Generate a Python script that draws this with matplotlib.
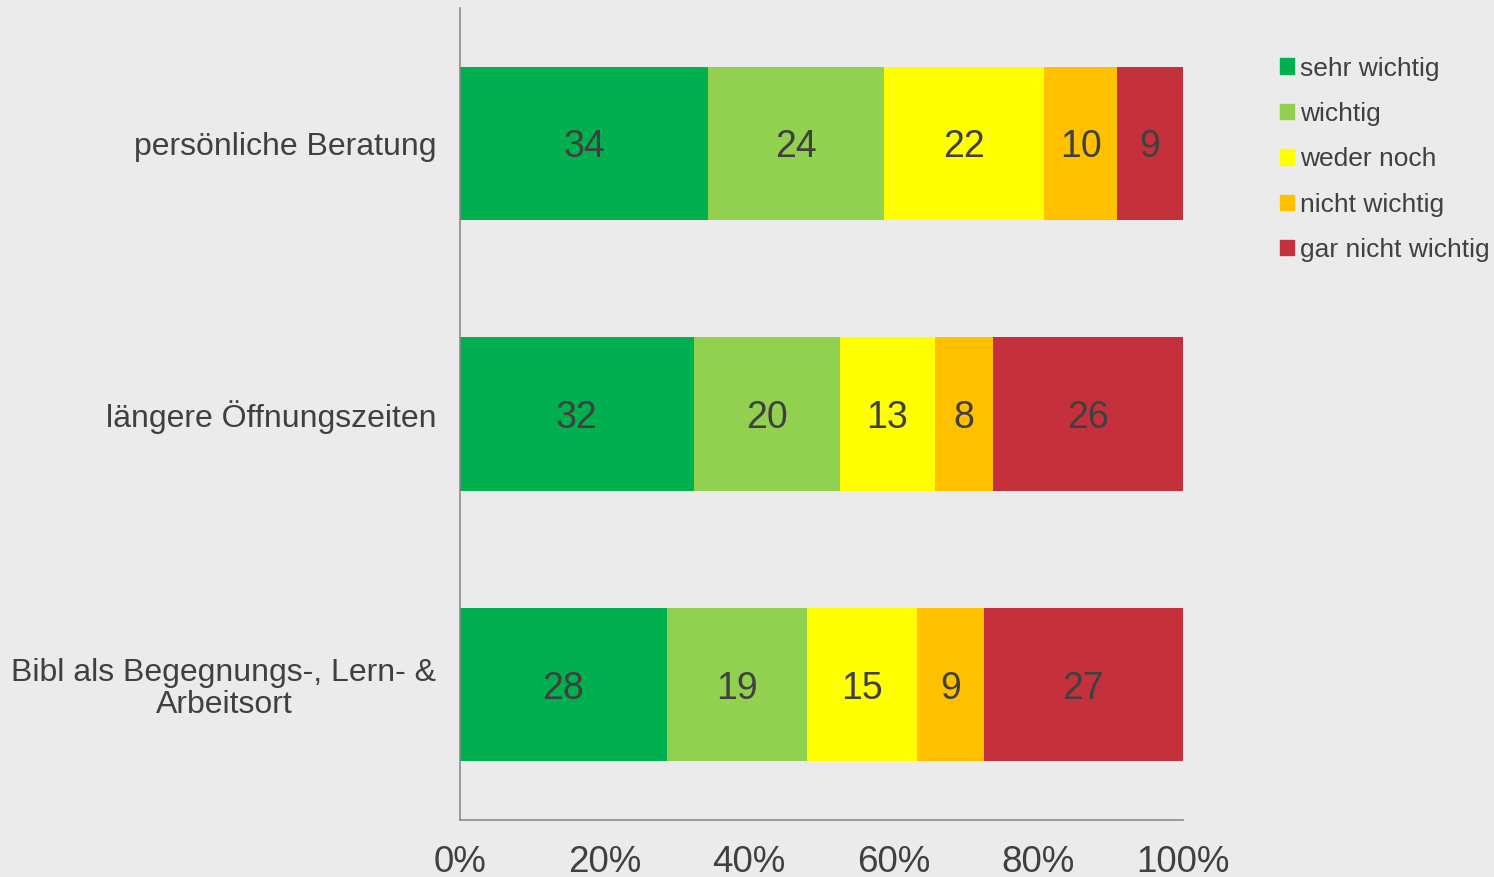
import matplotlib.pyplot as plt
from matplotlib.patches import Patch
import numpy as np

plt.rcParams['font.family'] = ['Liberation Sans', 'DejaVu Sans']

categories = ["persönliche Beratung", "längere Öffnungszeiten",
              "Bibl als Begegnungs-, Lern- &\nArbeitsort"]
series = ["sehr wichtig", "wichtig", "weder noch", "nicht wichtig", "gar nicht wichtig"]
sehr_wichtig = [34, 32, 28]
wichtig = [24, 20, 19]
weder_noch = [22, 13, 15]
nicht_wichtig = [10, 8, 9]
gar_nicht_wichtig = [9, 26, 27]
colors = ["#00B050", "#92D050", "#FFFF00", "#FFC000", "#C4313D"]
xticks = [0, 20, 40, 60, 80, 100]

BG = "#EBEBEB"
TXT = "#404040"

values = np.array([sehr_wichtig, wichtig, weder_noch, nicht_wichtig, gar_nicht_wichtig], dtype=float)
totals = values.sum(axis=0)
shares = values / totals * 100

fig = plt.figure(figsize=(14.94, 8.77), dpi=100, facecolor=BG)
ax = fig.add_axes([0.3079, 0.0650, 0.4839, 0.9259], facecolor=BG)

y = np.arange(len(categories))
left = np.zeros(len(categories))
for i, name in enumerate(series):
    ax.barh(y, shares[i], left=left, height=0.567, color=colors[i], label=name)
    for j in range(len(categories)):
        ax.text(left[j] + shares[i][j] / 2, y[j], f"{int(values[i][j])}",
                ha="center", va="center_baseline", fontsize=27, color=TXT)
    left += shares[i]

ax.set_ylim(2.5, -0.5)
ax.set_xlim(0, 100)
ax.set_yticks(y)
ax.set_yticklabels(categories)
for lbl in ax.get_yticklabels():
    lbl.set_multialignment("center")
    lbl.set_linespacing(1.1)
ax.set_xticks(xticks)
ax.set_xticklabels([f"{t}%" for t in xticks])
ax.tick_params(axis="y", length=0, pad=17, labelsize=23, labelcolor=TXT)
ax.tick_params(axis="x", length=0, pad=18, labelsize=26.5, labelcolor=TXT)

for s in ["top", "right"]:
    ax.spines[s].set_visible(False)
for s in ["left", "bottom"]:
    ax.spines[s].set_color("#8C8C8C")
    ax.spines[s].set_linewidth(1.2)

handles = [Patch(color=c) for c in colors]
fig.legend(handles, series, loc="upper left", bbox_to_anchor=(0.857, 0.9355),
           frameon=False, fontsize=19, labelcolor=TXT, handlelength=0.53,
           handleheight=0.53, handletextpad=0.23, labelspacing=0.81,
           borderaxespad=0, borderpad=0)

fig.savefig("out.png", dpi=100, facecolor=BG)
